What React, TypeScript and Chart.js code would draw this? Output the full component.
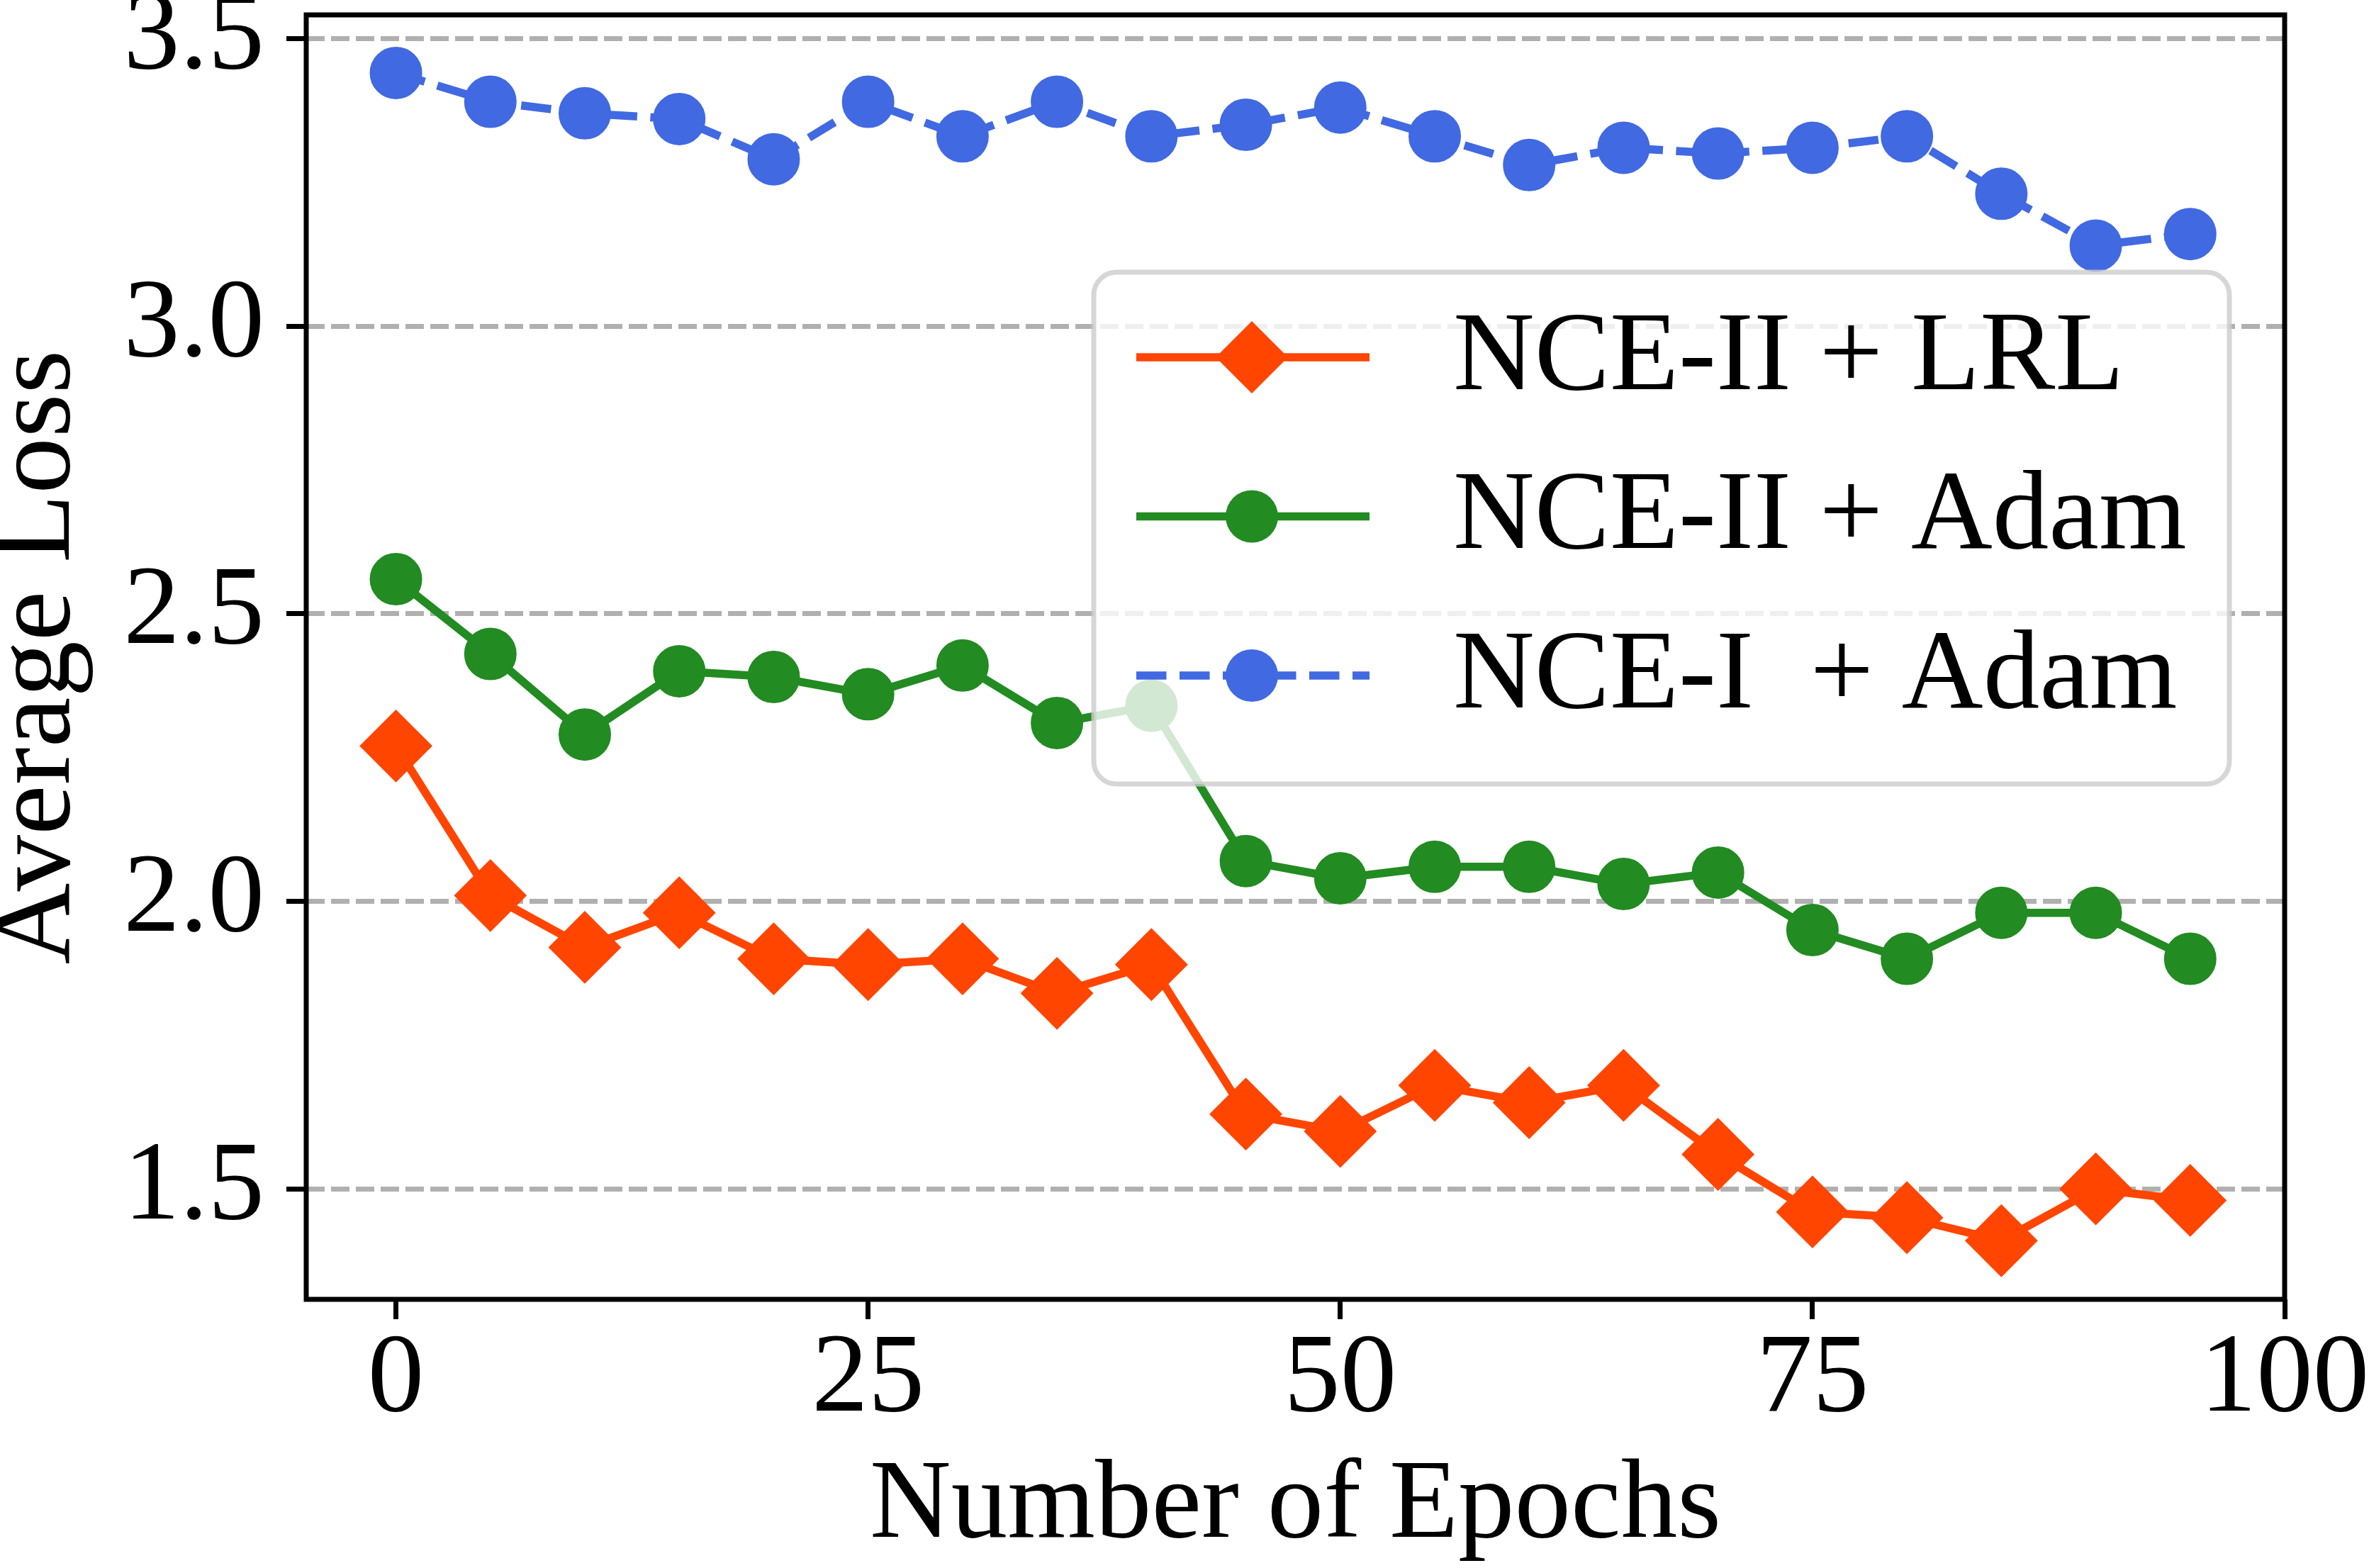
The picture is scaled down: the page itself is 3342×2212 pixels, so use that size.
import { useEffect, useRef } from "react";
import { Chart, registerables } from "chart.js";

Chart.register(...registerables);

// data
const epochs = [0, 5, 10, 15, 20, 25, 30, 35, 40, 45, 50, 55, 60, 65, 70, 75, 80, 85, 90, 95];
const nce2LrlLoss = [2.27, 2.01, 1.92, 1.98, 1.9, 1.89, 1.9, 1.84, 1.89, 1.63, 1.6, 1.68, 1.65, 1.68, 1.56, 1.46, 1.45, 1.41, 1.5, 1.48];
const nce2AdamLoss = [2.56, 2.43, 2.29, 2.4, 2.39, 2.36, 2.41, 2.31, 2.34, 2.07, 2.04, 2.06, 2.06, 2.03, 2.05, 1.95, 1.9, 1.98, 1.98, 1.9];
const nce1AdamLoss = [3.44, 3.39, 3.37, 3.36, 3.29, 3.39, 3.33, 3.39, 3.33, 3.35, 3.38, 3.33, 3.28, 3.31, 3.3, 3.31, 3.33, 3.23, 3.14, 3.16];

const seriesLabels = ["NCE-II + LRL", "NCE-II + Adam", "NCE-I  + Adam"];
const xTicks = [0, 25, 50, 75, 100];
const yTicks = [1.5, 2.0, 2.5, 3.0, 3.5];

const W = 3342;
const H = 2212;
const FONT = '"Liberation Serif", "Times New Roman", serif';
const FS = 159;

const toPoints = (ys: number[]) => epochs.map((x, i) => ({ x, y: ys[i] }));

// frame around the plot + matplotlib-like legend box
const framePlugin = {
  id: "frameAndLegend",
  afterDatasetsDraw(chart: any) {
    const { ctx, chartArea: a } = chart;
    ctx.save();
    ctx.strokeStyle = "#000";
    ctx.lineWidth = 7;
    ctx.strokeRect(a.left, a.top, a.right - a.left, a.bottom - a.top);
    ctx.restore();
  },
  afterDraw(chart: any) {
    const { ctx, chartArea: a } = chart;
    const bx = a.left + 1111;
    const by = a.top + 363;
    const bw = 1602;
    const bh = 722;
    ctx.save();
    ctx.beginPath();
    ctx.roundRect(bx, by, bw, bh, 32);
    ctx.fillStyle = "rgba(255,255,255,0.8)";
    ctx.fill();
    ctx.lineWidth = 7;
    ctx.strokeStyle = "rgba(204,204,204,0.8)";
    ctx.stroke();

    chart.data.datasets.forEach((ds: any, i: number) => {
      const y = by + 120 + i * 224.5;
      const x0 = bx + 60;
      const x1 = bx + 389;
      const mx = bx + 223;
      ctx.strokeStyle = ds.borderColor;
      ctx.lineWidth = ds.borderWidth;
      ctx.lineCap = "butt";
      ctx.setLineDash(ds.borderDash || []);
      ctx.beginPath();
      ctx.moveTo(x0, y);
      ctx.lineTo(x1, y);
      ctx.stroke();
      ctx.setLineDash([]);

      ctx.fillStyle = ds.pointBackgroundColor;
      ctx.beginPath();
      const r = ds.pointRadius + 1;
      if (ds.pointStyle === "rectRot") {
        ctx.moveTo(mx, y - r);
        ctx.lineTo(mx + r, y);
        ctx.lineTo(mx, y + r);
        ctx.lineTo(mx - r, y);
        ctx.closePath();
      } else {
        ctx.arc(mx, y, r, 0, Math.PI * 2);
      }
      ctx.fill();

      ctx.fillStyle = "#000";
      ctx.font = `${FS}px ${FONT}`;
      ctx.textAlign = "left";
      ctx.textBaseline = "middle";
      ctx.fillText(seriesLabels[i], bx + 507, y + 3);
    });
    ctx.restore();
  },
};

export default function App() {
  const canvasRef = useRef<HTMLCanvasElement | null>(null);
  const chartInstance = useRef<Chart | null>(null);

  useEffect(() => {
    if (!canvasRef.current) return;
    if (chartInstance.current) chartInstance.current.destroy();

    chartInstance.current = new Chart(canvasRef.current, {
      type: "line",
      data: {
        datasets: [
          {
            label: seriesLabels[0],
            data: toPoints(nce2LrlLoss),
            borderColor: "#ff4500",
            backgroundColor: "#ff4500",
            borderWidth: 11.5,
            pointStyle: "rectRot",
            pointRadius: 50,
            pointBorderWidth: 2,
            pointBackgroundColor: "#ff4500",
            pointBorderColor: "#ff4500",
            order: 3,
          },
          {
            label: seriesLabels[1],
            data: toPoints(nce2AdamLoss),
            borderColor: "#228b22",
            backgroundColor: "#228b22",
            borderWidth: 11.5,
            pointStyle: "circle",
            pointRadius: 36,
            pointBorderWidth: 2,
            pointBackgroundColor: "#228b22",
            pointBorderColor: "#228b22",
            order: 2,
          },
          {
            label: seriesLabels[2],
            data: toPoints(nce1AdamLoss),
            borderColor: "#4169e1",
            backgroundColor: "#4169e1",
            borderWidth: 11.5,
            borderDash: [42.5, 18.5],
            pointStyle: "circle",
            pointRadius: 36,
            pointBorderWidth: 2,
            pointBackgroundColor: "#4169e1",
            pointBorderColor: "#4169e1",
            order: 1,
          },
        ],
      },
      options: {
        responsive: false,
        animation: false,
        devicePixelRatio: 1,
        events: [],
        layout: { autoPadding: false, padding: { top: 21, right: 119, left: 0, bottom: 0 } },
        plugins: {
          legend: { display: false },
          tooltip: { enabled: false },
        },
        scales: {
          x: {
            type: "linear",
            min: -4.75,
            max: 100,
            afterBuildTicks: (s: any) => {
              s.ticks = xTicks.map((v) => ({ value: v }));
            },
            afterFit: (s: any) => {
              s.height = 379;
              s.paddingLeft = 0;
              s.paddingRight = 0;
            },
            border: { display: false },
            grid: {
              drawOnChartArea: false,
              drawTicks: true,
              tickLength: 28,
              tickColor: "#000",
              tickWidth: 7,
            },
            ticks: {
              autoSkip: false,
              maxRotation: 0,
              padding: 8,
              color: "#000",
              font: { family: FONT, size: FS, lineHeight: 1 },
              callback: (v: any) => String(v),
            },
            title: {
              display: true,
              text: "Number of Epochs",
              color: "#000",
              font: { family: FONT, size: FS, lineHeight: 1 },
              padding: { top: 0, bottom: 6 },
            },
          },
          y: {
            type: "linear",
            min: 1.308,
            max: 3.541,
            afterBuildTicks: (s: any) => {
              s.ticks = yTicks.map((v) => ({ value: v }));
            },
            afterFit: (s: any) => {
              s.width = 432;
              s.paddingTop = 0;
              s.paddingBottom = 0;
            },
            // in Chart.js 4 the grid-line dash lives under border
            border: { display: false, dash: [26, 9] },
            grid: {
              color: "#b0b0b0",
              lineWidth: 7,
              drawTicks: true,
              tickLength: 28,
              tickColor: "#000",
              tickWidth: 7,
              tickBorderDash: [],
            },
            ticks: {
              autoSkip: false,
              padding: 31,
              color: "#000",
              font: { family: FONT, size: FS, lineHeight: 1 },
              callback: (v: any) => Number(v).toFixed(1),
            },
            title: {
              display: true,
              text: "Average Loss",
              color: "#000",
              font: { family: FONT, size: FS, lineHeight: 0.7 },
              padding: 0,
            },
          },
        },
      },
      plugins: [framePlugin],
    });

    return () => {
      chartInstance.current?.destroy();
      chartInstance.current = null;
    };
  }, []);

  return (
    <div style={{ position: "absolute", left: 0, top: 0, width: W, height: H, background: "#fff" }}>
      <canvas ref={canvasRef} width={W} height={H} style={{ display: "block", width: W, height: H }} />
    </div>
  );
}
